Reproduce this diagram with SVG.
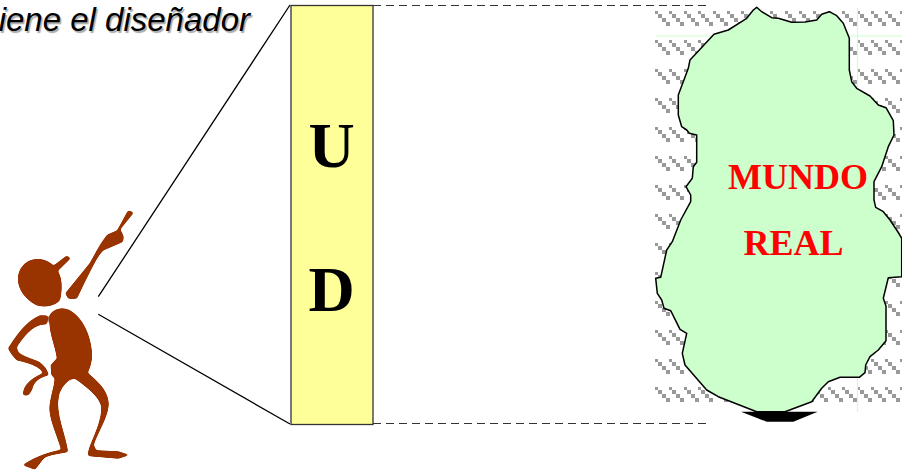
<svg xmlns="http://www.w3.org/2000/svg" width="902" height="471" viewBox="0 0 902 471">
<style>
.bold{font-family:"Liberation Serif",serif;font-weight:bold}
.red{fill:#f00;font-size:36px;text-anchor:middle}
.big{fill:#000;font-size:64px;text-anchor:middle}
.title{font-family:"Liberation Sans",sans-serif;font-style:italic;font-size:33px;fill:#000;text-anchor:end;text-shadow:1.5px 1.5px 1px #aaa}
.thin{stroke:#000;stroke-width:1.3;fill:none}
.dash{stroke:#333;stroke-width:1.2;stroke-dasharray:8 5;fill:none}
.lg{stroke:#ccffcc;stroke-width:1.2;fill:none}
.man{fill:#993300;stroke:#993300;stroke-width:3;stroke-linejoin:round}
</style>
<defs>
<path id="hatchdash" fill="#999" shape-rendering="crispEdges" d="M0 0h3v3h-3zM3 3h4v4h-4zM7 7h4v4h-4zM11 11h4v4h-4z"/>
<g id="hatchrow">
<use href="#hatchdash" x="655"/><use href="#hatchdash" x="669"/><use href="#hatchdash" x="684"/><use href="#hatchdash" x="698"/><use href="#hatchdash" x="713"/><use href="#hatchdash" x="727"/><use href="#hatchdash" x="741"/><use href="#hatchdash" x="756"/><use href="#hatchdash" x="770"/><use href="#hatchdash" x="785"/><use href="#hatchdash" x="799"/><use href="#hatchdash" x="813"/><use href="#hatchdash" x="828"/><use href="#hatchdash" x="842"/><use href="#hatchdash" x="857"/><use href="#hatchdash" x="871"/><use href="#hatchdash" x="885"/><use href="#hatchdash" x="900"/>
</g>
<filter id="smooth" x="-10%" y="-10%" width="120%" height="120%" color-interpolation-filters="sRGB">
<feGaussianBlur stdDeviation="0.8"/>
<feComponentTransfer><feFuncA type="linear" slope="4" intercept="-1.5"/></feComponentTransfer>
</filter>
</defs>
<rect width="902" height="471" fill="#fff"/>
<g id="background-hatch">
<use href="#hatchrow" y="11"/><use href="#hatchrow" y="40"/><use href="#hatchrow" y="69"/><use href="#hatchrow" y="98"/><use href="#hatchrow" y="127"/><use href="#hatchrow" y="156"/><use href="#hatchrow" y="185"/><use href="#hatchrow" y="214"/><use href="#hatchrow" y="243"/><use href="#hatchrow" y="272"/><use href="#hatchrow" y="301"/><use href="#hatchrow" y="330"/><use href="#hatchrow" y="359"/><use href="#hatchrow" y="387"/>
<path class="lg" d="M656 36H902M857.5 8V90M857.5 378V412"/>
</g>
<g id="connectors">
<path class="thin" d="M98.3 296.7L290 5M98.3 314.3L290 424"/>
<path class="dash" d="M373 5.5H706M373 423.5H706"/>
</g>
<g id="titulo"><text class="title" x="250" y="31">iene el diseñador</text></g>
<g id="ud">
<rect x="291" y="5.5" width="82" height="419" fill="#ffff99" stroke="#333" stroke-width="1.3"/>
<text class="bold big" x="331.5" y="167">U</text>
<text class="bold big" x="331.5" y="311">D</text>
</g>
<g id="mundo-real">
<polygon points="741,411.7 817.7,411.7 793.3,421.7 766.7,421.7" fill="#000"/>
<polygon fill="#ccffcc" stroke="#000" stroke-width="1.5" stroke-linejoin="round" points="756.7,7.3 761.7,11.7 771.7,17.7 778.3,18.3 791.7,22.3 805,22 816.7,20 821.7,14.3 829.3,11.7 836.7,15.7 843.3,23.3 849.3,38.3 849.3,70 851.7,81.7 856.7,88.3 870,96 878.3,105 886,107.7 893.3,120.7 894,135 888.3,146.7 881.7,166.7 874,181.7 874,200 875.7,207.3 883.3,211.7 890,220 898,232 901.7,238.3 901.7,276.7 888.3,277.7 883.3,298.3 886,306 886,340.7 878.3,350 870,356.7 865.7,365 865,372.7 859.3,377.3 840,377.3 828.3,381.7 821.7,388.3 811.7,401.7 785,411.7 756.7,411.7 718.3,396.7 706.7,390 685,365 682.3,353.3 686.7,333.3 680,329.3 670.7,310.7 664,308.3 661.7,300 657.3,293.3 655.7,278.3 660.7,277.3 666.7,250 672.3,241.7 680.7,220 690.7,201.7 690.7,195 686,186.7 692.3,178.3 693.3,166.7 696.7,162.3 696.7,135 689.3,133.3 686.7,130 681.7,126.7 678.3,115 678.3,95 688.3,68.3 690,60 714,34.3 728.3,30 746.7,18.3 753.3,10"/>
<text class="bold red" x="798" y="189">MUNDO</text>
<text class="bold red" x="793.5" y="255">REAL</text>
</g>
<g id="persona" filter="url(#smooth)">
<g transform="translate(0,200) scale(0.33333)">
<path class="man" d="M55 230C60 195 85 178 115 178C150 180 178 205 183 245C185 270 182 290 178 302C160 318 135 322 110 315C80 300 52 270 55 230Z"/>
<polygon class="man" points="158,200 200,168 211,175 170,215"/>
<path class="man" d="M197 280L270 190C285 165 295 140 322 105L352 92L385 32L400 38L360 88L370 110L368 125L310 150C295 165 285 180 230 295L205 295Z"/>
<path class="man" d="M150 345C160 328 185 322 205 330C240 345 270 395 275 460C275 490 268 505 262 518C285 540 322 565 325 610C325 650 295 690 280 735L288 752L355 755L385 765L355 775L265 767C262 740 305 680 305 625C305 595 260 560 225 535L210 538C195 550 180 565 175 590C165 640 195 700 203 755C170 762 135 765 128 778L105 808L70 795C100 775 140 758 185 750C170 700 145 650 150 615C155 580 165 555 165 535L155 525L153 495L172 475C165 430 145 395 150 345Z"/>
<path class="man" d="M120 347L143 348L140 372C115 372 90 380 50 440C50 460 60 465 115 485C130 495 140 505 145 525C125 530 100 540 95 570L85 585L70 585C70 560 85 540 130 520C125 505 100 490 50 480C40 470 30 455 25 445C45 415 75 365 120 347Z"/>
</g>
</g>
</svg>
